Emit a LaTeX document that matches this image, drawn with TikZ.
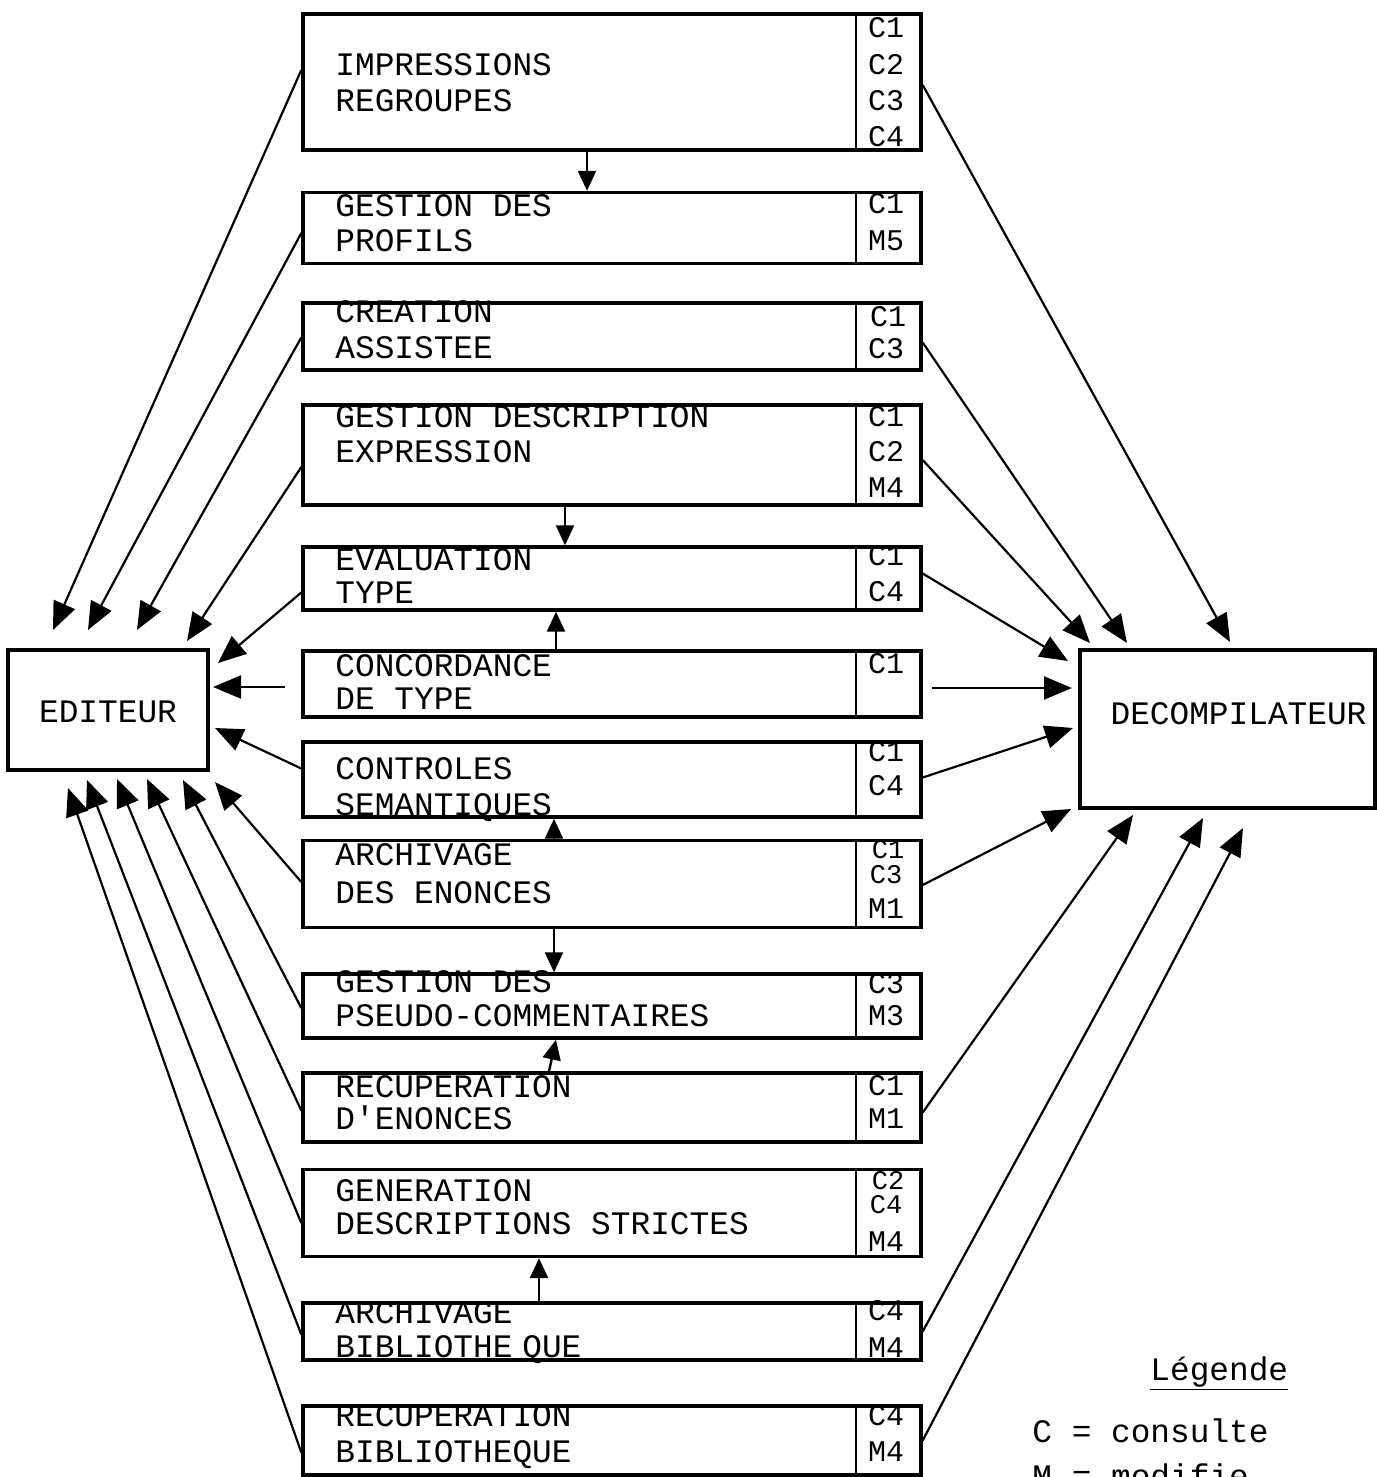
\documentclass[tikz,border=0pt]{standalone}
\usepackage{fontspec}
\setmonofont{Liberation Mono}
\usetikzlibrary{arrows.meta,calc}
\newcommand{\procbox}[3]{%
  \node[box, minimum height=#3pt] (#1) at (612,#2) {};
  \draw[div] ($(#1.north west)+(555,0)$) -- ($(#1.south west)+(555,0)$);}
\begin{document}
\begin{tikzpicture}[x=0.5pt,y=-0.5pt,
  box/.style={draw, line width=1.7pt, minimum width=309pt, inner sep=0pt},
  endbox/.style={draw, line width=1.6pt, inner sep=0pt},
  div/.style={line width=1.1pt},
  tt/.style={font=\ttfamily\fontsize{16.4}{19}\selectfont, inner sep=0pt, text height=9.4pt, text depth=0pt},
  lbl/.style={tt, anchor=west},
  side/.style={font=\ttfamily\fontsize{15}{17}\selectfont, inner sep=0pt, text height=8.5pt, text depth=0pt, anchor=center},
  tight/.style={font=\ttfamily\fontsize{13.5}{15}\selectfont, inner sep=0pt, text height=7.7pt, text depth=0pt, anchor=center},
  leg/.style={font=\ttfamily\fontsize{16.4}{19}\selectfont, inner sep=0pt, anchor=base west},
  big/.style={line width=1.1pt, -{Triangle[length=14pt,width=11.5pt]}},
  small/.style={line width=1.2pt, -{Triangle[length=10pt,width=9pt]}}]
\useasboundingbox (0,0) rectangle (1376,1477);

% ---------- central boxes ----------
\procbox{b1}{82}{68}
\node[lbl] (b1a) at (335,66) {IMPRESSIONS};
\node[lbl] (b1b) at (335,102) {REGROUPES};
\node[side] (b1c) at (886,29) {C1};
\node[side] (b1d) at (886,66) {C2};
\node[side] (b1e) at (886,102) {C3};
\node[side] (b1f) at (886,138) {C4};

\procbox{b2}{228}{35.5}
\node[lbl] (b2a) at (335,207) {GESTION DES};
\node[lbl] (b2b) at (335,242) {PROFILS};
\node[side] (b2c) at (886,205) {C1};
\node[side] (b2d) at (886,242) {M5};

\procbox{b3}{336.5}{33.5}
\node[lbl] (b3a) at (335,313) {CREATION};
\node[lbl] (b3b) at (335,349) {ASSISTEE};
\node[side] (b3c) at (888,318) {C1};
\node[side] (b3d) at (886,350) {C3};

\procbox{b4}{455}{50}
\node[lbl] (b4a) at (335,418) {GESTION DESCRIPTION};
\node[lbl] (b4b) at (335,453) {EXPRESSION};
\node[side] (b4c) at (886,418) {C1};
\node[side] (b4d) at (886,453) {C2};
\node[side] (b4e) at (886,489) {M4};

\procbox{b5}{578.5}{31.5}
\node[lbl] (b5a) at (335,561) {EVALUATION};
\node[lbl] (b5b) at (335,594) {TYPE};
\node[side] (b5c) at (886,557) {C1};
\node[side] (b5d) at (886,593) {C4};

\procbox{b6}{684}{33}
\node[lbl] (b6a) at (335,667) {CONCORDANCE};
\node[lbl] (b6b) at (335,700) {DE TYPE};
\node[side] (b6c) at (886,665) {C1};

\procbox{b7}{779.5}{37.5}
\node[lbl] (b7a) at (335,770) {CONTROLES};
\node[lbl] (b7b) at (335,806) {SEMANTIQUES};
\node[side] (b7c) at (886,753) {C1};
\node[side] (b7d) at (886,787) {C4};

\procbox{b8}{884}{43.5}
\node[lbl] (b8a) at (335,856) {ARCHIVAGE};
\node[lbl] (b8b) at (335,894) {DES ENONCES};
\node[tight] (b8c) at (888,851) {C1};
\node[tight] (b8d) at (886,876) {C3};
\node[side] (b8e) at (886,910) {M1};

\procbox{b9}{1006}{32}
\node[lbl] (b9a) at (335,983) {GESTION DES};
\node[lbl] (b9b) at (335,1017) {PSEUDO-COMMENTAIRES};
\node[side] (b9c) at (886,985) {C3};
\node[side] (b9d) at (886,1017) {M3};

\procbox{b10}{1107.5}{34.5}
\node[lbl] (b10a) at (335,1088) {RECUPERATION};
\node[lbl] (b10b) at (335,1120) {D'ENONCES};
\node[side] (b10c) at (886,1087) {C1};
\node[side] (b10d) at (886,1120) {M1};

\procbox{b11}{1213}{43.5}
\node[lbl] (b11a) at (335,1192) {GENERATION};
\node[lbl] (b11b) at (335,1225) {DESCRIPTIONS STRICTES};
\node[tight] (b11c) at (888,1182) {C2};
\node[tight] (b11d) at (886,1206) {C4};
\node[side] (b11e) at (886,1243) {M4};

\procbox{b12}{1331.5}{28.5}
\node[lbl] (b12a) at (335,1314) {ARCHIVAGE};
\node[lbl] (b12b) at (335,1348) {BIBLIOTHE\hspace{0.3em}QUE};
\node[side] (b12c) at (886,1312) {C4};
\node[side] (b12d) at (886,1349) {M4};

\procbox{b13}{1440.5}{34.5}
\node[lbl] (b13a) at (335,1417) {RECUPERATION};
\node[lbl] (b13b) at (335,1453) {BIBLIOTHEQUE};
\node[side] (b13c) at (886,1417) {C4};
\node[side] (b13d) at (886,1453) {M4};

% ---------- end boxes ----------
\node[endbox, minimum width=100pt, minimum height=60pt] (ed) at (108,710) {};
\node[tt] (edt) at (108,713) {EDITEUR};
\node[endbox, minimum width=147.5pt, minimum height=79pt] (dc) at (1227.5,729) {};
\node[tt] (dct) at (1238.5,715) {DECOMPILATEUR};

% ---------- arrow tips near EDITEUR ----------
\coordinate (L1) at (53,630);
\coordinate (L2) at (88,630);
\coordinate (L3) at (137,630);
\coordinate (L4) at (187,641);
\coordinate (L5) at (218,663);
\coordinate (L6) at (213,687);
\coordinate (L7) at (215,728);
\coordinate (L8) at (215,782);
\coordinate (L9) at (183,780);
\coordinate (L10) at (147,779);
\coordinate (L11) at (117,779);
\coordinate (L12) at (87,780);
\coordinate (L13) at (68,788);

% ---------- arrow tips near DECOMPILATEUR ----------
\coordinate (R1) at (1230,642);
\coordinate (R3) at (1127,643);
\coordinate (R4) at (1090,643);
\coordinate (R5) at (1068,661);
\coordinate (R6) at (1072,688);
\coordinate (R7) at (1073,728);
\coordinate (R8) at (1071,809);
\coordinate (R10) at (1133,815);
\coordinate (R12) at (1203,818);
\coordinate (R13) at (1243,828);

% ---------- connectors to EDITEUR ----------
\draw[big] ($(b1.west)+(0,-12)$) -- (L1);
\draw[big] ($(b2.west)+(0,5)$) -- (L2);
\draw[big] ($(b3.west)+(0,1)$) -- (L3);
\draw[big] ($(b4.west)+(0,12)$) -- (L4);
\draw[big] ($(b5.west)+(0,14)$) -- (L5);
\draw[big, shorten <=8pt] ($(b6.west)+(0,3)$) -- (L6);
\draw[big] ($(b7.west)+(0,-11)$) -- (L7);
\draw[big] ($(b8.west)+(0,-2)$) -- (L8);
\draw[big] ($(b9.west)+(0,2)$) -- (L9);
\draw[big] ($(b10.west)+(0,3)$) -- (L10);
\draw[big] ($(b11.west)+(0,10)$) -- (L11);
\draw[big] ($(b12.west)+(0,3)$) -- (L12);
\draw[big] ($(b13.west)+(0,12)$) -- (L13);

% ---------- connectors to DECOMPILATEUR ----------
\draw[big] ($(b1.east)+(0,3)$) -- (R1);
\draw[big] ($(b3.east)+(0,6)$) -- (R3);
\draw[big] ($(b4.east)+(0,5)$) -- (R4);
\draw[big] ($(b5.east)+(0,-5)$) -- (R5);
\draw[big, shorten <=4.5pt] ($(b6.east)+(0,4)$) -- (R6);
\draw[big] ($(b7.east)+(0,-2)$) -- (R7);
\draw[big] ($(b8.east)+(0,1)$) -- (R8);
\draw[big] ($(b10.east)+(0,5)$) -- (R10);
\draw[big] ($(b12.east)+(0,0)$) -- (R12);
\draw[big] ($(b13.east)+(0,0)$) -- (R13);

% ---------- vertical arrows between boxes ----------
\draw[small] ($(b1.south)+(-25,0)$) -- ($(b2.north)+(-25,0)$);
\draw[small] ($(b4.south)+(-47,0)$) -- ($(b5.north)+(-47,0)$);
\draw[small] ($(b6.north)+(-56,0)$) -- ($(b5.south)+(-56,0)$);
\draw[small] ($(b8.north)+(-58,0)$) -- ($(b7.south)+(-58,0)$);
\draw[small] ($(b8.south)+(-58,0)$) -- ($(b9.north)+(-58,0)$);
\draw[small] ($(b10.north)+(-63,0)$) -- ($(b9.south)+(-56,0)$);
\draw[small] ($(b12.north)+(-73,0)$) -- ($(b11.south)+(-73,0)$);

% ---------- legend ----------
\node[leg] (lg0) at (1150,1380) {\underline{Légende}};
\node[leg] (lg1) at (1032,1442) {C = consulte};
\node[leg] (lg2) at (1032,1487) {M = modifie};
\end{tikzpicture}
\end{document}
